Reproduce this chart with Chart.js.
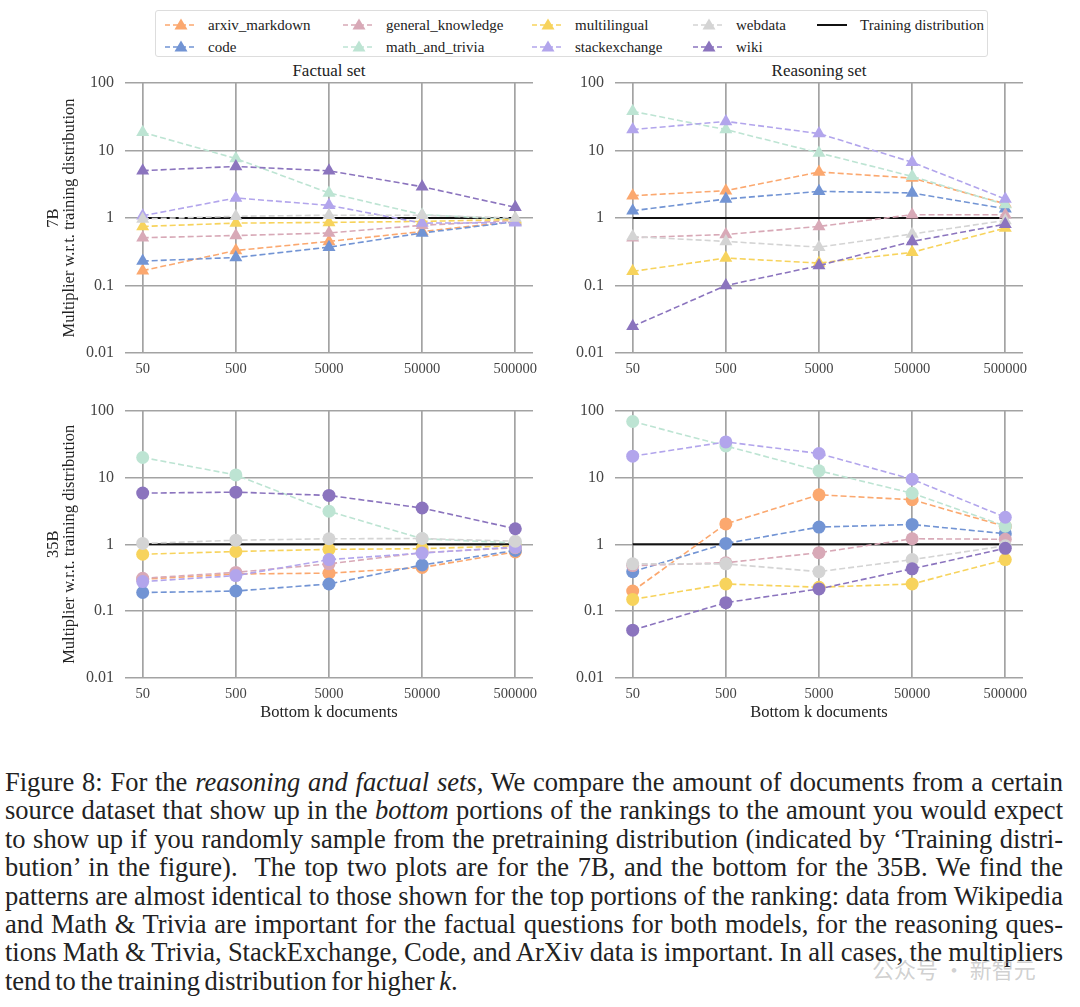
<!DOCTYPE html>
<html>
<head>
<meta charset="utf-8">
<script src="https://cdn.jsdelivr.net/npm/chart.js@4.4.1/dist/chart.umd.min.js"></script>
<style>
  body { margin: 0; background: #fff; }
  #page { position: relative; width: 1080px; height: 1007px; background: #fff; font-family: "Liberation Serif", "DejaVu Serif", serif; color: #222; overflow: hidden; }
  .panel { position: absolute; }
  .ptitle { position: absolute; font-size: 17px; line-height: 20px; color: #222; transform: translateX(-50%); white-space: nowrap; }
  #legend { position: absolute; left: 155px; top: 10px; width: 833px; height: 47px; border: 1px solid #ddd; border-radius: 3px; box-sizing: border-box; }
  .item { position: absolute; font-size: 15px; line-height: 18px; color: #222; white-space: nowrap; display: flex; align-items: center; }
  .item svg { margin-right: 10px; }
  #caption { position: absolute; left: 5px; top: 768px; width: 1058px; font-size: 26.5px; word-spacing: -2px; }
  #caption div { text-align: justify; text-align-last: justify; height: 28.4px; line-height: 28.4px; }
  #caption div.last { text-align-last: left; }
  #wm { position: absolute; left: 872px; top: 952px; font-family: "Noto Sans CJK SC", sans-serif; font-size: 22px; color: rgba(150,150,150,0.45); }
</style>
</head>
<body>
<div id="page">
  <div id="legend"></div>
  <div class="ptitle" style="left:329px; top:61px;">Factual set</div>
  <div class="ptitle" style="left:819px; top:61px;">Reasoning set</div>
  <div class="panel" style="left:0px; top:60px; width:545px; height:330px;"><canvas id="c1"></canvas></div>
  <div class="panel" style="left:555px; top:60px; width:480px; height:330px;"><canvas id="c2"></canvas></div>
  <div class="panel" style="left:0px; top:390px; width:545px; height:345px;"><canvas id="c3"></canvas></div>
  <div class="panel" style="left:555px; top:390px; width:480px; height:345px;"><canvas id="c4"></canvas></div>
  <div id="caption"></div>
  <div id="wm">公众号 · 新智元</div>
</div>
<script>
// categories and series
const ks = ['50', '500', '5000', '50000', '500000'];
const sources = ['arxiv_markdown', 'code', 'general_knowledge', 'math_and_trivia',
                 'multilingual', 'stackexchange', 'webdata', 'wiki'];
const colors = ['#fba86f', '#7294d4', '#d8a9b7', '#bde4d3', '#f7d35c', '#b2a5ec', '#d4d4d4', '#8b74be'];
const yTicks = [0.01, 0.1, 1, 10, 100];
const yTickLabels = ['0.01', '0.1', '1', '10', '100'];
const trainingDist = [1, 1, 1, 1, 1];

// one row per source, same order as `sources`
const factual7B = [
    [0.166, 0.33, 0.45, 0.63, 0.89],
    [0.23, 0.26, 0.37, 0.60, 0.88],
    [0.51, 0.55, 0.60, 0.78, 0.92],
    [18.6, 7.6, 2.35, 1.12, 0.95],
    [0.75, 0.84, 0.86, 0.89, 0.95],
    [1.08, 1.98, 1.54, 0.84, 0.85],
    [0.97, 1.06, 1.10, 1.10, 1.0],
    [5.03, 5.8, 5.0, 2.91, 1.44]
];
const reasoning7B = [
    [2.14, 2.54, 4.8, 3.9, 1.62],
    [1.28, 1.91, 2.48, 2.35, 1.37],
    [0.51, 0.57, 0.75, 1.12, 1.12],
    [38, 20.4, 9.2, 4.14, 1.58],
    [0.162, 0.255, 0.215, 0.31, 0.71],
    [20.4, 27, 17.8, 6.7, 1.91],
    [0.53, 0.45, 0.37, 0.58, 0.92],
    [0.0248, 0.1, 0.197, 0.45, 0.81]
];
const factual35B = [
    [0.30, 0.36, 0.37, 0.45, 0.77],
    [0.19, 0.20, 0.255, 0.49, 0.81],
    [0.31, 0.38, 0.51, 0.75, 0.89],
    [19.9, 10.9, 3.12, 1.21, 1.05],
    [0.71, 0.78, 0.84, 0.86, 0.95],
    [0.277, 0.34, 0.59, 0.74, 0.91],
    [1.03, 1.15, 1.21, 1.22, 1.11],
    [5.83, 6.03, 5.38, 3.49, 1.71]
];
const reasoning35B = [
    [0.20, 2.02, 5.5, 4.64, 1.85],
    [0.39, 1.03, 1.81, 1.98, 1.44],
    [0.48, 0.53, 0.75, 1.21, 1.19],
    [68.7, 29.6, 12.6, 5.8, 1.87],
    [0.15, 0.255, 0.228, 0.255, 0.59],
    [20.8, 34, 22.8, 9.4, 2.54],
    [0.51, 0.51, 0.39, 0.59, 0.95],
    [0.052, 0.134, 0.215, 0.43, 0.87]
];

const captionLines = [
    'Figure 8: For the <i>reasoning and factual sets</i>, We compare the amount of documents from a certain',
    'source dataset that show up in the <i>bottom</i> portions of the rankings to the amount you would expect',
    'to show up if you randomly sample from the pretraining distribution (indicated by ‘Training distri-',
    'bution’ in the figure).&nbsp; The top two plots are for the 7B, and the bottom for the 35B. We find the',
    'patterns are almost identical to those shown for the top portions of the ranking: data from Wikipedia',
    'and Math &amp; Trivia are important for the factual questions for both models, for the reasoning ques-',
    'tions Math &amp; Trivia, StackExchange, Code, and ArXiv data is important. In all cases, the multipliers',
    'tend to the training distribution for higher <i>k</i>.'
];

const serif = '"Liberation Serif", "DejaVu Serif", serif';
const gridColor = '#a3a3a3';

function makeChart(id, rows, marker, yTitle, xTitle, yWidth, pad) {
    const datasets = rows.map((vals, i) => ({
        label: sources[i],
        data: vals.map((v, j) => ({ x: j, y: v })),
        borderColor: colors[i],
        backgroundColor: colors[i],
        pointBackgroundColor: colors[i],
        pointBorderColor: colors[i],
        pointBorderWidth: 0,
        pointStyle: marker,
        pointRadius: marker === 'triangle' ? 7.5 : 6.5,
        borderWidth: 1.6,
        borderDash: [6, 3],
        order: sources.length - i
    }));
    datasets.push({
        label: 'Training distribution',
        data: trainingDist.map((v, j) => ({ x: j, y: v })),
        borderColor: '#111',
        borderWidth: 2,
        pointRadius: 0,
        order: 20
    });

    new Chart(document.getElementById(id).getContext('2d'), {
        type: 'line',
        data: { datasets: datasets },
        options: {
            responsive: true,
            maintainAspectRatio: false,
            animation: false,
            layout: { padding: pad },
            plugins: { legend: { display: false }, tooltip: { enabled: false } },
            scales: {
                x: {
                    type: 'linear',
                    min: -0.19,
                    max: 4.19,
                    afterBuildTicks: s => { s.ticks = ks.map((k, j) => ({ value: j })); },
                    afterFit: s => { s.height = xTitle ? 50 : 30; },
                    ticks: {
                        callback: v => ks[v],
                        color: '#444',
                        padding: 7,
                        maxRotation: 0,
                        font: { family: serif, size: 14.5 }
                    },
                    grid: { color: gridColor, lineWidth: 1.7, drawTicks: false },
                    border: { display: false },
                    title: {
                        display: !!xTitle,
                        text: xTitle,
                        color: '#222',
                        padding: { top: 0, bottom: 5 },
                        font: { family: serif, size: 16.5 }
                    }
                },
                y: {
                    type: 'logarithmic',
                    min: 0.01,
                    max: 100,
                    afterBuildTicks: s => { s.ticks = yTicks.map(v => ({ value: v })); },
                    afterFit: s => { s.width = yWidth; },
                    ticks: {
                        callback: v => yTickLabels[yTicks.indexOf(v)],
                        color: '#444',
                        padding: 11,
                        font: { family: serif, size: 16 }
                    },
                    grid: { color: gridColor, lineWidth: 1.5, drawTicks: false },
                    border: { display: false },
                    title: {
                        display: !!yTitle,
                        text: yTitle,
                        color: '#222',
                        padding: 0,
                        font: { family: serif, size: 16.5, lineHeight: 1.0 }
                    }
                }
            }
        }
    });
}

function buildLegend() {
    const legend = document.getElementById('legend');
    const colX = [8, 186, 375, 536, 660];
    const rowY = [5, 27];
    sources.forEach((name, i) => {
        const col = Math.floor(i / 2), row = i % 2;
        const item = document.createElement('div');
        item.className = 'item';
        item.style.left = colX[col] + 'px';
        item.style.top = rowY[row] + 'px';
        item.innerHTML =
            `<svg width="34" height="18"><line x1="1" y1="9" x2="33" y2="9" stroke="${colors[i]}" stroke-width="1.5" stroke-dasharray="5,3"/>` +
            `<polygon points="17,2.5 23.5,13.5 10.5,13.5" fill="${colors[i]}"/></svg>` + name;
        legend.appendChild(item);
    });
    const train = document.createElement('div');
    train.className = 'item';
    train.style.left = colX[4] + 'px';
    train.style.top = rowY[0] + 'px';
    train.innerHTML = '<svg width="34" height="18"><line x1="1" y1="9" x2="31" y2="9" stroke="#111" stroke-width="2"/></svg>Training distribution';
    legend.appendChild(train);
}

function buildCaption() {
    const cap = document.getElementById('caption');
    captionLines.forEach((line, i) => {
        const d = document.createElement('div');
        if (i === captionLines.length - 1) d.className = 'last';
        d.innerHTML = line;
        cap.appendChild(d);
    });
}

window.onload = function() {
    buildLegend();
    buildCaption();
    makeChart('c1', factual7B, 'triangle', ['7B', 'Multiplier w.r.t. training distribution'], '', 80, { left: 45, right: 12, top: 23, bottom: 7 });
    makeChart('c2', reasoning7B, 'triangle', '', '', 60, { left: 0, right: 12, top: 23, bottom: 7 });
    makeChart('c3', factual35B, 'circle', ['35B', 'Multiplier w.r.t. training distribution'], 'Bottom k documents', 80, { left: 45, right: 12, top: 18, bottom: 7 });
    makeChart('c4', reasoning35B, 'circle', '', 'Bottom k documents', 60, { left: 0, right: 12, top: 18, bottom: 7 });
};
</script>
</body>
</html>
